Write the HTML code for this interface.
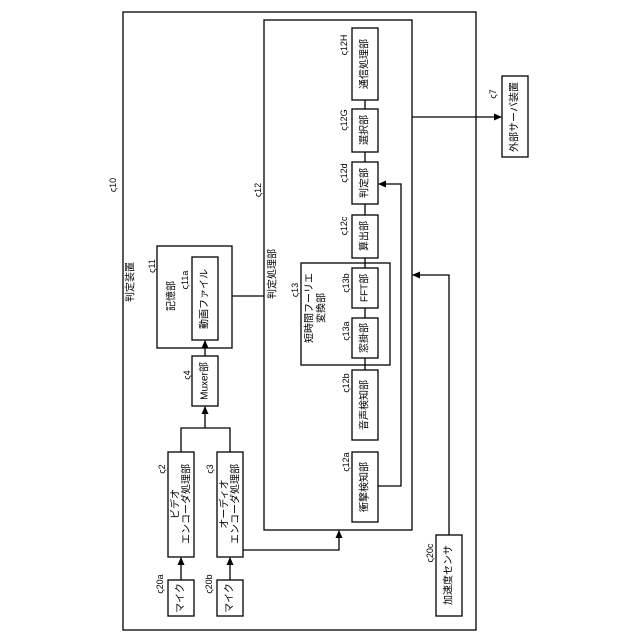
<!DOCTYPE html>
<html><head><meta charset="utf-8"><style>
html,body{margin:0;padding:0;background:#fff;}
svg{display:block;}
text{font-family:"Liberation Sans","Noto Sans CJK JP",sans-serif;font-size:10px;fill:#000;}
.s{font-size:9px;}
</style></head><body>
<svg width="640" height="640" viewBox="0 0 640 640" xmlns="http://www.w3.org/2000/svg">
<defs><marker id="a" markerWidth="8" markerHeight="8" refX="7" refY="4" orient="auto" markerUnits="userSpaceOnUse"><path d="M0,0.5 L8,4 L0,7.5 Z" fill="#000"/></marker></defs>
<g fill="none" stroke="#000" stroke-width="1.3">
<rect x="123" y="12" width="353" height="618"/>
<rect x="264" y="20" width="148" height="510"/>
<rect x="502" y="76" width="26" height="81"/>
<rect x="352" y="28" width="26" height="72"/>
<rect x="352" y="109" width="26" height="43"/>
<rect x="352" y="162" width="26" height="42"/>
<rect x="352" y="215" width="26" height="43"/>
<rect x="301" y="263" width="89" height="102"/>
<rect x="352" y="268" width="26" height="40"/>
<rect x="352" y="318" width="26" height="40"/>
<rect x="352" y="370" width="26" height="70"/>
<rect x="352" y="452" width="26" height="70"/>
<rect x="157" y="246" width="75" height="102"/>
<rect x="192" y="257" width="26" height="83"/>
<rect x="192" y="356" width="26" height="50"/>
<rect x="168" y="452" width="26" height="105"/>
<rect x="217" y="452" width="26" height="105"/>
<rect x="168" y="580" width="26" height="36"/>
<rect x="217" y="580" width="26" height="36"/>
<rect x="436" y="535" width="26" height="81"/>
<path d="M365 100V109M365 152V162M365 204V215M365 258V268M365 308V318M365 358V370"/>
<path d="M181 452V428H230V452M205 428V407" marker-end="url(#a)"/>
<path d="M205 356V341" marker-end="url(#a)"/>
<path d="M181 580V558" marker-end="url(#a)"/>
<path d="M230 580V558" marker-end="url(#a)"/>
<path d="M232 296H264"/>
<path d="M243 550H339V531" marker-end="url(#a)"/>
<path d="M378 486H401V184H379" marker-end="url(#a)"/>
<path d="M449 535V275H413" marker-end="url(#a)"/>
<path d="M412 117H501" marker-end="url(#a)"/>
</g>
<g text-anchor="middle" dominant-baseline="central">
<text transform="translate(131,282) rotate(-90)">判定装置</text>
<text class="s" transform="translate(113,185) rotate(-90)">ς10</text>
<text class="s" transform="translate(258,190) rotate(-90)">ς12</text>
<text transform="translate(273,274) rotate(-90)">判定処理部</text>
<text class="s" transform="translate(152,266) rotate(-90)">ς11</text>
<text transform="translate(172,296) rotate(-90)">記憶部</text>
<text class="s" transform="translate(185,280) rotate(-90)">ς11a</text>
<text transform="translate(205,299) rotate(-90)">動画ファイル</text>
<text class="s" transform="translate(187,375) rotate(-90)">ς4</text>
<text transform="translate(205,381) rotate(-90)">Muxer部</text>
<text class="s" transform="translate(162,469) rotate(-90)">ς2</text>
<text transform="translate(176,504) rotate(-90)">ビデオ</text>
<text transform="translate(187,504) rotate(-90)">エンコーダ処理部</text>
<text class="s" transform="translate(210,469) rotate(-90)">ς3</text>
<text transform="translate(225,504) rotate(-90)">オーディオ</text>
<text transform="translate(236,504) rotate(-90)">エンコーダ処理部</text>
<text class="s" transform="translate(160,584) rotate(-90)">ς20a</text>
<text transform="translate(181,598) rotate(-90)">マイク</text>
<text class="s" transform="translate(209,584) rotate(-90)">ς20b</text>
<text transform="translate(230,598) rotate(-90)">マイク</text>
<text class="s" transform="translate(430,553) rotate(-90)">ς20c</text>
<text transform="translate(449,575) rotate(-90)">加速度センサ</text>
<text class="s" transform="translate(295,290) rotate(-90)">ς13</text>
<text transform="translate(310,308) rotate(-90)">短時間フーリエ</text>
<text transform="translate(322,308) rotate(-90)">変換部</text>
<text class="s" transform="translate(346,462) rotate(-90)">ς12a</text>
<text transform="translate(365,487) rotate(-90)">衝撃検知部</text>
<text class="s" transform="translate(346,383) rotate(-90)">ς12b</text>
<text transform="translate(365,405) rotate(-90)">音声検知部</text>
<text class="s" transform="translate(346,331) rotate(-90)">ς13a</text>
<text transform="translate(365,338) rotate(-90)">窓掛部</text>
<text class="s" transform="translate(346,283) rotate(-90)">ς13b</text>
<text transform="translate(365,288) rotate(-90)">FFT部</text>
<text class="s" transform="translate(344,226) rotate(-90)">ς12c</text>
<text transform="translate(365,236) rotate(-90)">算出部</text>
<text class="s" transform="translate(344,173) rotate(-90)">ς12d</text>
<text transform="translate(365,183) rotate(-90)">判定部</text>
<text class="s" transform="translate(344,120) rotate(-90)">ς12G</text>
<text transform="translate(365,130) rotate(-90)">選択部</text>
<text class="s" transform="translate(344,45) rotate(-90)">ς12H</text>
<text transform="translate(365,64) rotate(-90)">通信処理部</text>
<text class="s" transform="translate(493,94) rotate(-90)">ς7</text>
<text transform="translate(515,117) rotate(-90)">外部サーバ装置</text>
</g>
</svg>
</body></html>
